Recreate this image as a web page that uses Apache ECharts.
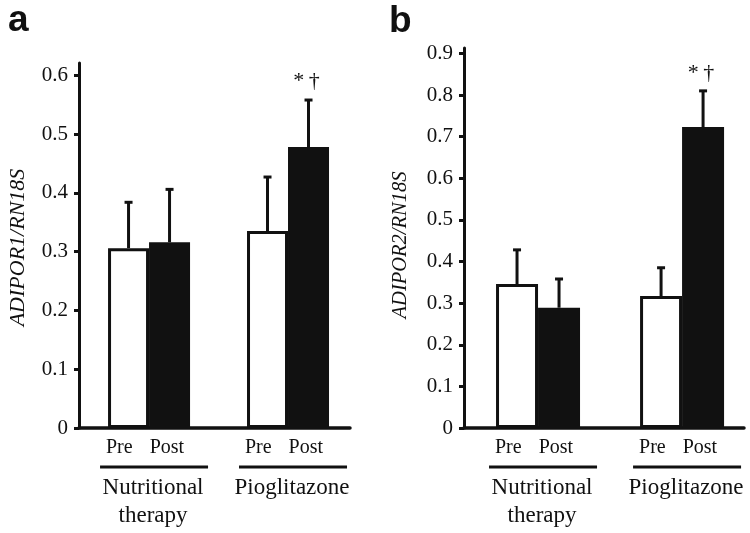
<!DOCTYPE html>
<html><head><meta charset="utf-8">
<script src="https://cdn.jsdelivr.net/npm/echarts@6/dist/echarts.min.js"></script>
<style>html,body{margin:0;padding:0;background:#fff}#c{width:750px;height:533px}</style>
</head><body><div id="c"></div>
<script>
// ---- data ----
const groupPos = [1, 2];
const groupLines = [['Nutritional', 'therapy'], ['Pioglitazone']];
const phases = ['Pre', 'Post'];
const panelLetters = ['a', 'b'];
const yTitleA = 'ADIPOR1/RN18S';
const yTitleB = 'ADIPOR2/RN18S';
const yTicksA = [0, 0.1, 0.2, 0.3, 0.4, 0.5, 0.6];
const yTicksB = [0, 0.1, 0.2, 0.3, 0.4, 0.5, 0.6, 0.7, 0.8, 0.9];
const preA = [0.306, 0.335];
const preErrA = [0.078, 0.092];
const postA = [0.316, 0.478];
const postErrA = [0.09, 0.08];
const sigA = ['', '*\u2009\u2020'];
const preB = [0.346, 0.317];
const preErrB = [0.082, 0.068];
const postB = [0.289, 0.723];
const postErrB = [0.069, 0.087];
const sigB = ['', '*\u2009\u2020'];

// ---- styling ----
const SERIF = '"Liberation Serif", "Times New Roman", serif';
const INK = '#111';

function xLabel(v) {
  let i = -1;
  groupPos.forEach((p, k) => { if (Math.abs(p - v) < 1e-6) i = k; });
  if (i < 0) return '';
  let s = '{pp|' + phases[0] + '}{gap| }{pp|' + phases[1] + '}{tr| }\n{ls| }{ul| }';
  groupLines[i].forEach(l => { s += '\n{gs| }{g|' + l + '}'; });
  return s;
}
const rich = {
  pp: {fontSize: 20, lineHeight: 24, fontFamily: SERIF, color: INK},
  gap: {width: 17, fontSize: 20, lineHeight: 24},
  tr: {width: 8, fontSize: 20, lineHeight: 24},
  ls: {width: 10, fontSize: 10, lineHeight: 14},
  ul: {width: 108, height: 3, fontSize: 10, lineHeight: 14, backgroundColor: INK},
  gs: {width: 8, fontSize: 23, lineHeight: 28},
  g: {fontSize: 23, lineHeight: 28, fontFamily: SERIF, color: INK}
};

function errRender(sign, barW, sig, sigDy) {
  return function (params, api) {
    const x = api.value(0), v = api.value(1), e = api.value(2);
    const base = api.coord([x, v]);
    const top = api.coord([x, v + e]);
    const cx = base[0] + sign * barW / 2;
    const ch = [
      {type: 'line', shape: {x1: cx, y1: base[1], x2: cx, y2: top[1]}, style: {stroke: INK, lineWidth: 3}},
      {type: 'line', shape: {x1: cx - 4, y1: top[1], x2: cx + 4, y2: top[1]}, style: {stroke: INK, lineWidth: 3}}
    ];
    const s = sig[params.dataIndex];
    if (s) ch.push({type: 'text', x: cx - 2, y: top[1] - sigDy,
      style: {text: s, fill: INK, font: '22px ' + SERIF, textAlign: 'center', textVerticalAlign: 'middle'}});
    return {type: 'group', children: ch};
  };
}

const panels = [
  {grid: {left: 79, top: 63, width: 271, height: 365}, xMin: 0.496, xMax: 2.446, yMax: 0.621,
   ticks: yTicksA, title: yTitleA, nameGap: 50, nameSize: 22, namePad: [0, 4, 0, 0], sigDy: 18.5,
   barW: 41, pre: preA, preErr: preErrA, post: postA, postErr: postErrA, sig: sigA},
  {grid: {left: 464, top: 48, width: 280, height: 380}, xMin: 0.486, xMax: 2.43, yMax: 0.913,
   ticks: yTicksB, title: yTitleB, nameGap: 53, nameSize: 20.5, namePad: [0, 14, 0, 0], sigDy: 17.5,
   barW: 42, pre: preB, preErr: preErrB, post: postB, postErr: postErrB, sig: sigB}
];

const option = {
  animation: false,
  backgroundColor: '#fff',
  title: [
    {text: panelLetters[0], left: 3, top: -3, textStyle: {fontFamily: '"Liberation Sans", Arial, sans-serif', fontWeight: 'bold', fontSize: 37, color: INK}},
    {text: panelLetters[1], left: 384, top: -2, textStyle: {fontFamily: '"Liberation Sans", Arial, sans-serif', fontWeight: 'bold', fontSize: 37, color: INK}}
  ],
  grid: [], xAxis: [], yAxis: [], series: []
};

panels.forEach((P, i) => {
  option.grid.push(Object.assign({containLabel: false}, P.grid));
  option.xAxis.push({
    type: 'value', gridIndex: i, min: P.xMin, max: P.xMax,
    axisLine: {show: true, onZero: false, lineStyle: {color: INK, width: 3.5}},
    axisTick: {show: false}, splitLine: {show: false},
    axisLabel: {customValues: groupPos, formatter: xLabel, rich: rich, margin: 8, color: INK, fontFamily: SERIF}
  });
  option.yAxis.push({
    type: 'value', gridIndex: i, min: 0, max: P.yMax,
    name: P.title, nameLocation: 'middle', nameGap: P.nameGap,
    nameTextStyle: {fontFamily: SERIF, fontStyle: 'italic', fontSize: P.nameSize, color: INK, padding: P.namePad},
    axisLine: {show: true, onZero: false, lineStyle: {color: INK, width: 3}},
    axisTick: {show: true, length: 5, customValues: P.ticks, lineStyle: {color: INK, width: 3}},
    axisLabel: {customValues: P.ticks, fontSize: 21, margin: 11, color: INK, fontFamily: SERIF},
    splitLine: {show: false}
  });
  option.series.push(
    {type: 'bar', name: phases[0], xAxisIndex: i, yAxisIndex: i, barWidth: P.barW, barGap: '0%',
     data: groupPos.map((p, k) => [p, P.pre[k]]),
     itemStyle: {color: '#fff', borderColor: INK, borderWidth: 3}, z: 2, silent: true},
    {type: 'bar', name: phases[1], xAxisIndex: i, yAxisIndex: i, barWidth: P.barW, barGap: '0%',
     data: groupPos.map((p, k) => [p, P.post[k]]),
     itemStyle: {color: INK, borderWidth: 0}, z: 2, silent: true},
    {type: 'custom', xAxisIndex: i, yAxisIndex: i, z: 3, silent: true,
     data: groupPos.map((p, k) => [p, P.pre[k], P.preErr[k]]),
     renderItem: errRender(-1, P.barW, ['', ''], P.sigDy), clip: false},
    {type: 'custom', xAxisIndex: i, yAxisIndex: i, z: 3, silent: true,
     data: groupPos.map((p, k) => [p, P.post[k], P.postErr[k]]),
     renderItem: errRender(1, P.barW, P.sig, P.sigDy), clip: false}
  );
});

const chart = echarts.init(document.getElementById('c'), null, {renderer: 'canvas'});
chart.setOption(option);
</script></body></html>
